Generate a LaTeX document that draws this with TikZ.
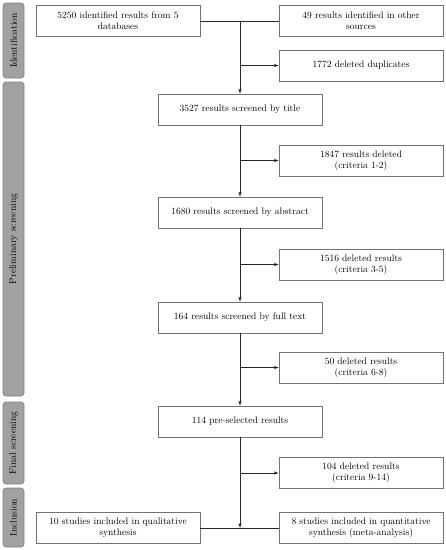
\documentclass[tikz,border=0pt]{standalone}
\usepackage{tikz}
\usetikzlibrary{calc, arrows.meta, positioning}

\begin{document}
\begin{tikzpicture}[x=1pt, y=-1pt, >=latex, font=\fontsize{9.5}{11}\selectfont]
			\tikzstyle{box} = [draw=black!55, line width=0.5pt, rectangle, minimum width=164, minimum height=31, align=center, inner sep=1pt]
			\tikzstyle{phase} = [draw=black!50, fill=black!37, line width=0.6pt, rounded corners=3pt, rotate=90, minimum height=21, inner sep=1pt]
			\tikzstyle{line} = [black!85, line width=0.5pt]
			
			\useasboundingbox (0, 0) rectangle (446, 550);
			
			% phases
			\node[phase, minimum width=75] 	at (13.5, 40.5) 	(p0) 	{Identification};
			\node[phase, minimum width=314] at (13.5, 239) 		(p1) 	{Preliminary screening};
			\node[phase, minimum width=82] 	at (13.5, 443) 		(p2) 	{Final screening};
			\node[phase, minimum width=59] 	at (13.5, 517.5) 	(p3) 	{Inclusion};
			
			% main column
			\node[box] 	at (118, 21) 		(a) 	{5250 identified results from 5\\databases};
			\node[box] 	at (361, 21) 		(b) 	{49 results identified in other\\sources};
			\node[box] 	at (240, 109.5) 	(title) 	{3527 results screened by title};
			\node[box] 	at (240, 212.5) 	(abstract) 	{1680 results screened by abstract};
			\node[box] 	at (240, 317.5) 	(full) 	{164 results screened by full text};
			\node[box] 	at (240, 421.5) 	(pre) 	{114 pre-selected results};
			\node[box] 	at (118, 528) 		(qual) 	{10 studies included in qualitative\\synthesis};
			\node[box] 	at (361, 528) 		(quant) 	{8 studies included in quantitative\\synthesis (meta-analysis)};
			
			% deleted
			\node[box] 	at (361, 65.5) 		(d0) 	{1772 deleted duplicates};
			\node[box] 	at (361, 160.5) 	(d1) 	{1847 results deleted\\(criteria 1-2)};
			\node[box] 	at (361, 264.5) 	(d2) 	{1516 deleted results\\(criteria 3-5)};
			\node[box] 	at (361, 367.5) 	(d3) 	{50 deleted results\\(criteria 6-8)};
			\node[box] 	at (361, 473) 		(d4) 	{104 deleted results\\(criteria 9-14)};
			
			\coordinate (top) at (a.east -| title.north);
			\coordinate (bot) at (qual.east -| pre.south);
			
			\draw[line] (a.east) -- (b.west);
			\draw[line, ->] (top) -- (title.north);
			\draw[line, ->] (title.south) -- (abstract.north);
			\draw[line, ->] (abstract.south) -- (full.north);
			\draw[line, ->] (full.south) -- (pre.north);
			\draw[line, ->] (pre.south) -- (bot);
			\draw[line] (qual.east) -- (quant.west);
			
			\draw[line, ->] (top |- d0.west) -- (d0.west);
			\draw[line, ->] (title.south |- d1.west) -- (d1.west);
			\draw[line, ->] (abstract.south |- d2.west) -- (d2.west);
			\draw[line, ->] (full.south |- d3.west) -- (d3.west);
			\draw[line, ->] (pre.south |- d4.west) -- (d4.west);
\end{tikzpicture}
\end{document}
